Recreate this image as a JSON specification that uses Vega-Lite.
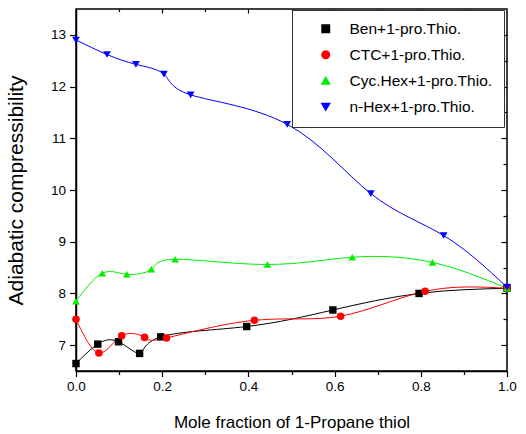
{
  "$schema": "https://vega.github.io/schema/vega-lite/v6.json",
  "autosize": {"type": "none"},
  "width": 431,
  "height": 362,
  "padding": {"left": 76, "top": 9, "right": 19, "bottom": 63},
  "background": "white",
  "config": {
    "view": {"stroke": "black", "strokeWidth": 1.5},
    "axis": {
      "domainColor": "black", "domainWidth": 1.5, "tickColor": "black", "tickWidth": 1.2,
      "labelColor": "black", "titleColor": "black", "grid": false,
      "labelFont": "Liberation Sans", "labelFontSize": 13.5,
      "titleFont": "Liberation Sans", "titleFontSize": 17, "titleFontWeight": "normal"
    }
  },
  "data": {"values": [
    {"series": "Ben+1-pro.Thio.", "x": 0.0, "y": 6.644},
    {"series": "Ben+1-pro.Thio.", "x": 0.0505, "y": 7.02},
    {"series": "Ben+1-pro.Thio.", "x": 0.0987, "y": 7.065},
    {"series": "Ben+1-pro.Thio.", "x": 0.1476, "y": 6.84},
    {"series": "Ben+1-pro.Thio.", "x": 0.1966, "y": 7.16},
    {"series": "Ben+1-pro.Thio.", "x": 0.396, "y": 7.36},
    {"series": "Ben+1-pro.Thio.", "x": 0.596, "y": 7.68},
    {"series": "Ben+1-pro.Thio.", "x": 0.796, "y": 8.0},
    {"series": "Ben+1-pro.Thio.", "x": 1.0, "y": 8.1},
    {"series": "CTC+1-pro.Thio.", "x": 0.0, "y": 7.5},
    {"series": "CTC+1-pro.Thio.", "x": 0.053, "y": 6.85},
    {"series": "CTC+1-pro.Thio.", "x": 0.106, "y": 7.18},
    {"series": "CTC+1-pro.Thio.", "x": 0.159, "y": 7.15},
    {"series": "CTC+1-pro.Thio.", "x": 0.21, "y": 7.14},
    {"series": "CTC+1-pro.Thio.", "x": 0.414, "y": 7.48},
    {"series": "CTC+1-pro.Thio.", "x": 0.614, "y": 7.56},
    {"series": "CTC+1-pro.Thio.", "x": 0.81, "y": 8.04},
    {"series": "CTC+1-pro.Thio.", "x": 1.0, "y": 8.1},
    {"series": "Cyc.Hex+1-pro.Thio.", "x": 0.0, "y": 7.85},
    {"series": "Cyc.Hex+1-pro.Thio.", "x": 0.061, "y": 8.39},
    {"series": "Cyc.Hex+1-pro.Thio.", "x": 0.118, "y": 8.37},
    {"series": "Cyc.Hex+1-pro.Thio.", "x": 0.175, "y": 8.47},
    {"series": "Cyc.Hex+1-pro.Thio.", "x": 0.23, "y": 8.66},
    {"series": "Cyc.Hex+1-pro.Thio.", "x": 0.444, "y": 8.56},
    {"series": "Cyc.Hex+1-pro.Thio.", "x": 0.641, "y": 8.7},
    {"series": "Cyc.Hex+1-pro.Thio.", "x": 0.827, "y": 8.6},
    {"series": "Cyc.Hex+1-pro.Thio.", "x": 1.0, "y": 8.1},
    {"series": "n-Hex+1-pro.Thio.", "x": 0.0, "y": 12.9},
    {"series": "n-Hex+1-pro.Thio.", "x": 0.072, "y": 12.62},
    {"series": "n-Hex+1-pro.Thio.", "x": 0.139, "y": 12.43},
    {"series": "n-Hex+1-pro.Thio.", "x": 0.204, "y": 12.24},
    {"series": "n-Hex+1-pro.Thio.", "x": 0.266, "y": 11.84},
    {"series": "n-Hex+1-pro.Thio.", "x": 0.49, "y": 11.27},
    {"series": "n-Hex+1-pro.Thio.", "x": 0.684, "y": 9.93},
    {"series": "n-Hex+1-pro.Thio.", "x": 0.853, "y": 9.12},
    {"series": "n-Hex+1-pro.Thio.", "x": 1.0, "y": 8.12}
  ]},
  "layer": [
    {
      "mark": {"type": "line", "interpolate": "natural", "strokeWidth": 1},
      "encoding": {
        "x": {"field": "x", "type": "quantitative", "scale": {"domain": [0, 1], "nice": false},
          "axis": {"orient": "bottom", "title": "Mole fraction of 1-Propane thiol",
            "values": [0, 0.1, 0.2, 0.3, 0.4, 0.5, 0.6, 0.7, 0.8, 0.9, 1.0],
            "format": ".1f",
            "labelExpr": "round(datum.value*10)%2==0 ? datum.label : ''",
            "tickSize": {"condition": {"test": "round(datum.value*10)%2!=0", "value": 3.5}, "value": 5.5},
            "labelPadding": 3, "titlePadding": 21, "labelFlush": false, "labelOverlap": false}},
        "y": {"field": "y", "type": "quantitative", "scale": {"domain": [6.5, 13.5], "nice": false, "zero": false},
          "axis": {"orient": "left", "title": "Adiabatic compressibility",
            "titleFont": "Liberation Sans", "titleFontSize": 21,
            "values": [7, 7.5, 8, 8.5, 9, 9.5, 10, 10.5, 11, 11.5, 12, 12.5, 13],
            "format": "d",
            "labelExpr": "datum.value % 1 == 0 ? datum.label : ''",
            "tickSize": {"condition": {"test": "datum.value % 1 != 0", "value": 4}, "value": 6.5},
            "labelPadding": 4, "titlePadding": 24, "labelOverlap": false}},
        "stroke": {"field": "series", "type": "nominal",
          "scale": {"domain": ["Ben+1-pro.Thio.", "CTC+1-pro.Thio.", "Cyc.Hex+1-pro.Thio.", "n-Hex+1-pro.Thio."],
            "range": ["#000000", "#ff0000", "#00ee00", "#0000ff"]}}
      }
    },
    {
      "mark": {"type": "point", "filled": true, "opacity": 1},
      "encoding": {
        "x": {"field": "x", "type": "quantitative",
          "axis": {"orient": "top", "title": null, "labels": false, "domain": false,
            "values": [0.1, 0.2, 0.3, 0.4, 0.5, 0.6, 0.7, 0.8, 0.9],
            "tickSize": {"condition": {"test": "round(datum.value*10)%2!=0", "value": -2.5}, "value": -4}}},
        "y": {"field": "y", "type": "quantitative",
          "axis": {"orient": "right", "title": null, "labels": false, "domain": false,
            "values": [7, 7.5, 8, 8.5, 9, 9.5, 10, 10.5, 11, 11.5, 12, 12.5, 13],
            "tickSize": {"condition": {"test": "datum.value % 1 != 0", "value": -4}, "value": -6}}},
        "size": {"field": "series", "type": "nominal",
          "scale": {"domain": ["Ben+1-pro.Thio.", "CTC+1-pro.Thio.", "Cyc.Hex+1-pro.Thio.", "n-Hex+1-pro.Thio."],
            "range": [55, 60, 100, 100]}},
        "color": {"field": "series", "type": "nominal",
          "scale": {"domain": ["Ben+1-pro.Thio.", "CTC+1-pro.Thio.", "Cyc.Hex+1-pro.Thio.", "n-Hex+1-pro.Thio."],
            "range": ["#000000", "#ff0000", "#00ee00", "#0000ff"]},
          "legend": {
            "orient": "none", "legendX": 216, "legendY": 1, "title": null,
            "strokeColor": "#333333", "fillColor": "white", "padding": 11,
            "labelFont": "Liberation Sans", "labelFontSize": 15.5, "labelColor": "black",
            "symbolOffset": 15, "labelOffset": 16, "rowPadding": 9,
            "labelLimit": 300
          }},
        "shape": {"field": "series", "type": "nominal",
          "scale": {"domain": ["Ben+1-pro.Thio.", "CTC+1-pro.Thio.", "Cyc.Hex+1-pro.Thio.", "n-Hex+1-pro.Thio."],
            "range": ["square", "circle", "triangle-up", "triangle-down"]}}
      }
    }
  ],
  "resolve": {"axis": {"x": "independent", "y": "independent"}}
}
